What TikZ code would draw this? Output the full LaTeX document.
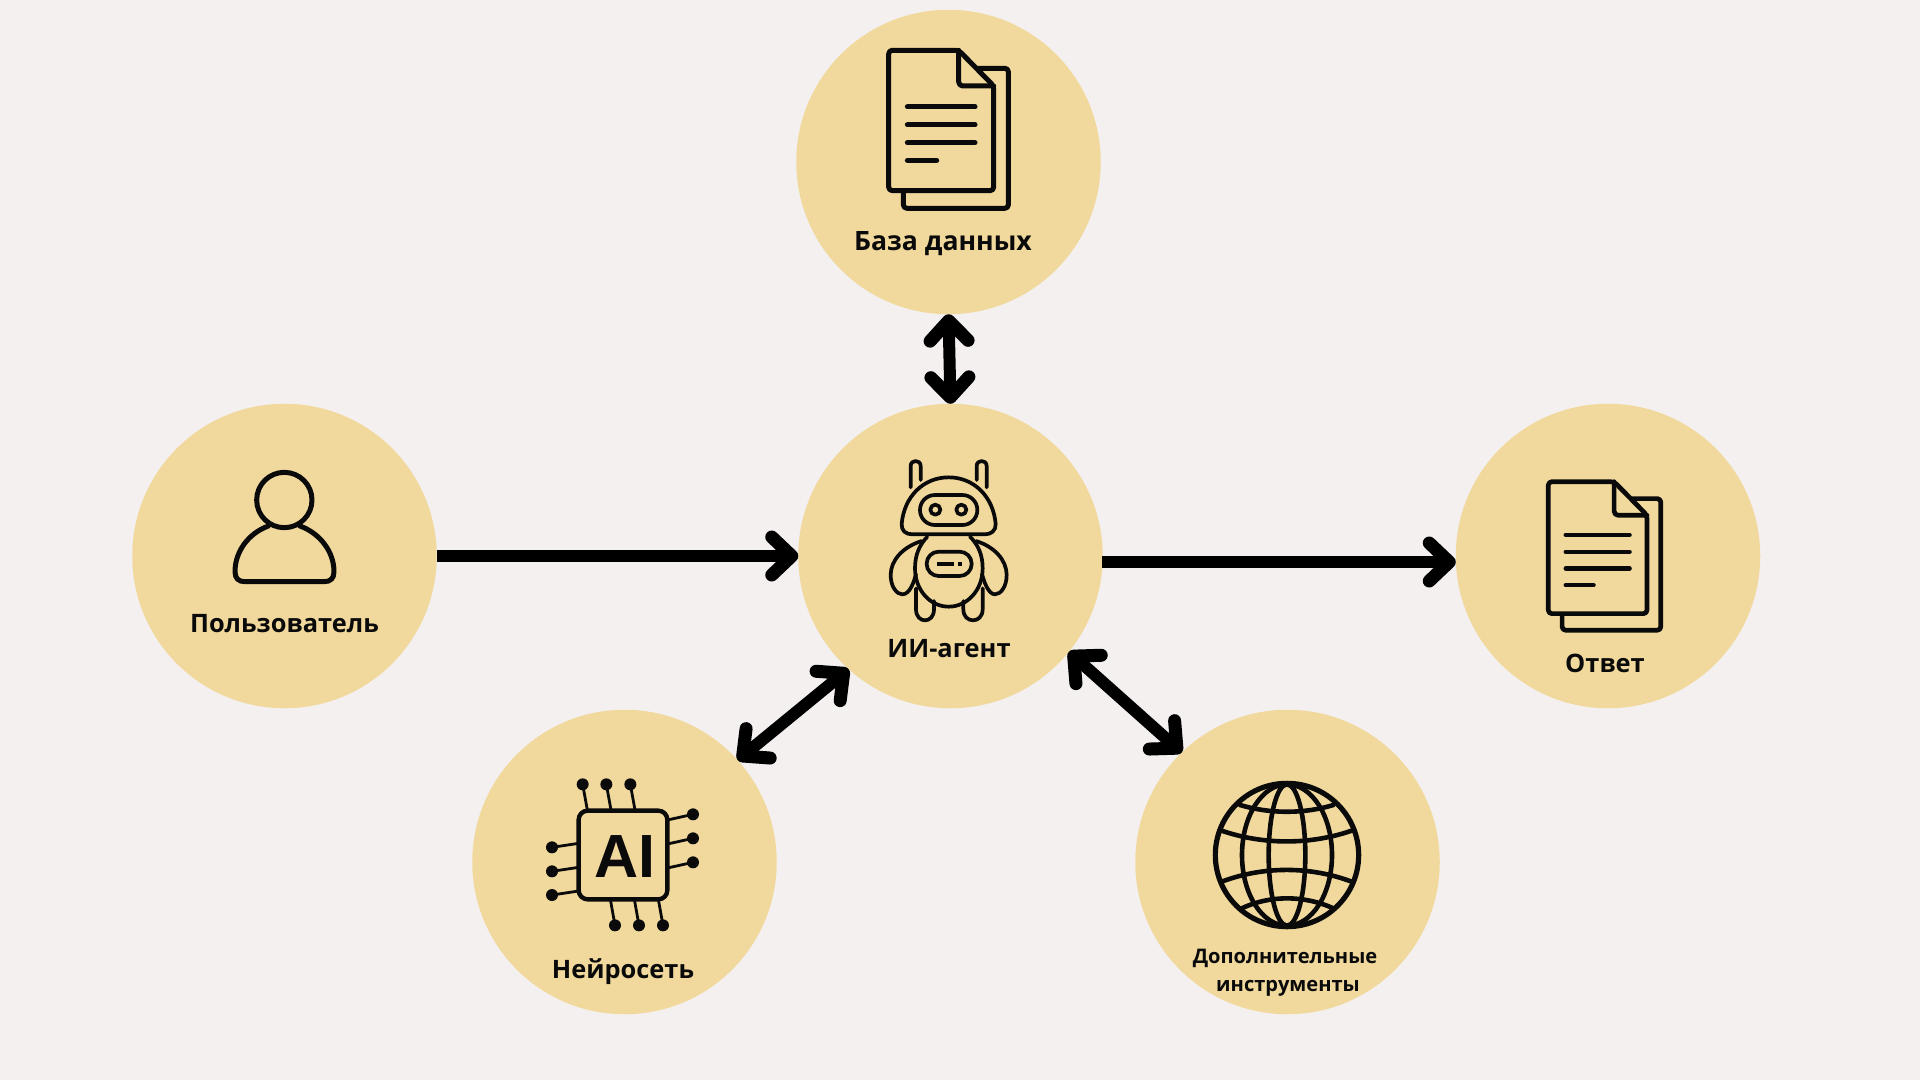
\documentclass[tikz,border=0pt]{standalone}
\usepackage{fontspec}
\setmainfont{Open Sans}
\newfontfamily\chipfont{Liberation Sans}
\usetikzlibrary{arrows.meta,calc}
\definecolor{bgc}{HTML}{F4F0EF}
\definecolor{disc}{HTML}{F1D99E}
\definecolor{ink}{HTML}{0A0A0A}
\tikzset{
  hub/.style={circle,fill=disc,draw=none,minimum size=304.5pt,inner sep=0pt,outer sep=0pt},
  lbl/.style={anchor=base,text=ink,font=\bfseries\fontsize{25.4}{30}\selectfont,inner sep=0pt},
  lblbig/.style={lbl,font=\bfseries\fontsize{26.6}{30}\selectfont},
  lblsmall/.style={lbl,font=\bfseries\fontsize{20.1}{25}\selectfont},
  mytip/.tip={Straight Barb[length=20pt,width=38pt,round,line width=13pt]},
  arr/.style={draw=black,line width=12pt,-mytip},
  biarr/.style={draw=black,line width=12pt,mytip-mytip},
  icon/.style={draw=ink,line cap=round,line join=round},
}
\newcommand{\docicon}[4]{%
  \begin{scope}[shift={(#1,#2)},scale=#3/3,icon,line width=#4pt]
    \draw[rounded corners=3.5pt] (210,0) -- (0,0) -- (0,421) -- (315,421) -- (315,107) -- cycle;
    \draw[rounded corners=4pt] (210,0) -- (210,107) -- (315,107);
    \draw[rounded corners=3.5pt] (269,54) -- (359,54) -- (359,474) -- (44,474) -- (44,424);
    \draw (56,170) -- (259,170) (56,224) -- (259,224) (56,277) -- (259,277) (56,330) -- (144,330);
  \end{scope}}
\begin{document}
\begin{tikzpicture}[x=1pt,y=-1pt]
\useasboundingbox (0,0) rectangle (1920,1080);
\fill[bgc] (0,0) rectangle (1920,1080);

\node[hub] (db) at (948.5,162) {};
\node[hub] (agent) at (950.5,556) {};
\node[hub] (user) at (284.5,556) {};
\node[hub] (answer) at (1608,556) {};
\node[hub] (ai) at (624.5,862) {};
\node[hub] (tools) at (1287.5,862) {};

\draw[arr] (user.east) -- (agent.west);
\draw[arr] ($(agent.east)+(-1,6)$) -- ($(answer.west)+(0,6)$);
\draw[biarr] (db.south) -- (agent.north);
\draw[biarr] (ai.42) -- (agent.228);
\draw[biarr] (agent.-39) -- (tools.134);

\docicon{888.7}{50.3}{1}{5}
\docicon{1548.3}{481.7}{0.94}{4.7}

% person
\begin{scope}[shift={(180,440)},scale=1/3,icon,line width=5pt]
  \draw (313,180) circle [radius=83];
  \draw (265,258) .. controls (205,280) and (165,335) .. (165,395)
        .. controls (165,415) and (175,425) .. (195,425) -- (432,425)
        .. controls (452,425) and (462,415) .. (462,395)
        .. controls (462,335) and (420,280) .. (360,258);
\end{scope}

% robot
\begin{scope}[shift={(790,400)},scale=1/3,icon,line width=3.7pt]
  \draw (362,262) -- (362,198) .. controls (362,178) and (392,178) .. (392,198) -- (392,240);
  \draw (560,240) -- (560,198) .. controls (560,178) and (590,178) .. (590,198) -- (590,262);
  \draw (335,372) .. controls (342,290) and (400,232) .. (476,232)
        .. controls (552,232) and (610,290) .. (617,372)
        .. controls (618,392) and (603,403) .. (585,403) -- (367,403)
        .. controls (347,403) and (334,392) .. (335,372) -- cycle;
  \draw[rounded corners=14.9pt] (390,285) rectangle (562,375);
  \draw (436,329) circle [radius=15] (514,329) circle [radius=15];
  \draw (412,410) .. controls (388,435) and (375,465) .. (375,505)
        .. controls (375,570) and (420,620) .. (476,620)
        .. controls (532,620) and (578,570) .. (578,505)
        .. controls (578,465) and (565,435) .. (540,410);
  \draw[rounded corners=12pt] (410,455) rectangle (545,528);
  \draw[line width=4.2pt,line cap=butt] (440,492) -- (492,492) (505,492) -- (517,492);
  \draw (395,423) .. controls (340,440) and (302,480) .. (302,525)
        .. controls (302,560) and (320,583) .. (337,583)
        .. controls (360,583) and (372,545) .. (378,522);
  \draw (558,423) .. controls (613,440) and (650,480) .. (650,525)
        .. controls (650,560) and (632,583) .. (615,583)
        .. controls (595,583) and (582,545) .. (576,522);
  \draw (378,565) -- (378,628) .. controls (378,672) and (432,672) .. (432,628) -- (432,603);
  \draw (520,603) -- (520,628) .. controls (520,672) and (578,672) .. (578,628) -- (578,565);
\end{scope}

% AI chip
\begin{scope}[shift={(470,710)},scale=1/3,icon]
  \draw[line width=4.4pt,rounded corners=9pt] (326,302) rectangle (592,568);
  \draw[line width=2.8pt]
    (338,223) -- (352,300) (409,223) -- (423,300) (481,223) -- (495,300)
    (669,313) -- (592,330) (669,385) -- (592,402) (669,457) -- (592,474)
    (246,412) -- (326,400) (246,484) -- (326,472) (246,555) -- (326,543)
    (435,646) -- (421,568) (507,646) -- (493,568) (579,646) -- (565,568);
  \fill[ink]
    (338,223) circle [radius=18] (409,223) circle [radius=18] (481,223) circle [radius=18]
    (669,313) circle [radius=18] (669,385) circle [radius=18] (669,457) circle [radius=18]
    (246,412) circle [radius=18] (246,484) circle [radius=18] (246,555) circle [radius=18]
    (435,646) circle [radius=18] (507,646) circle [radius=18] (579,646) circle [radius=18];
\end{scope}
\node[anchor=base,inner sep=0pt,text=ink,font=\chipfont\bfseries\fontsize{61}{62}\selectfont] (chiptext) at (624.5,877) {AI};

% globe
\begin{scope}[shift={(1130,710)},scale=1/3,icon,line width=4.6pt]
  \draw[line width=5.2pt] (471,435) circle [radius=215];
  \draw (471,435) ellipse [x radius=55,y radius=212];
  \draw (471,435) ellipse [x radius=135,y radius=212];
  \draw (330,285) .. controls (420,312) and (522,312) .. (610,285);
  \draw (275,362) .. controls (400,405) and (540,405) .. (665,362);
  \draw (275,515) .. controls (400,468) and (540,468) .. (665,515);
  \draw (335,595) .. controls (420,555) and (522,555) .. (610,595);
\end{scope}

\node[lblbig] (l1) at (943,250) {База данных};
\node[lbl] (l2) at (949,657) {ИИ-агент};
\node[lbl] (l3) at (284.5,632) {Пользователь};
\node[lbl] (l4) at (1605,672) {Ответ};
\node[lbl] (l5) at (623,978.5) {Нейросеть};
\node[lblsmall] (l6) at (1285,963) {Дополнительные};
\node[lblsmall] (l7) at (1288,991) {инструменты};
\end{tikzpicture}
\end{document}
